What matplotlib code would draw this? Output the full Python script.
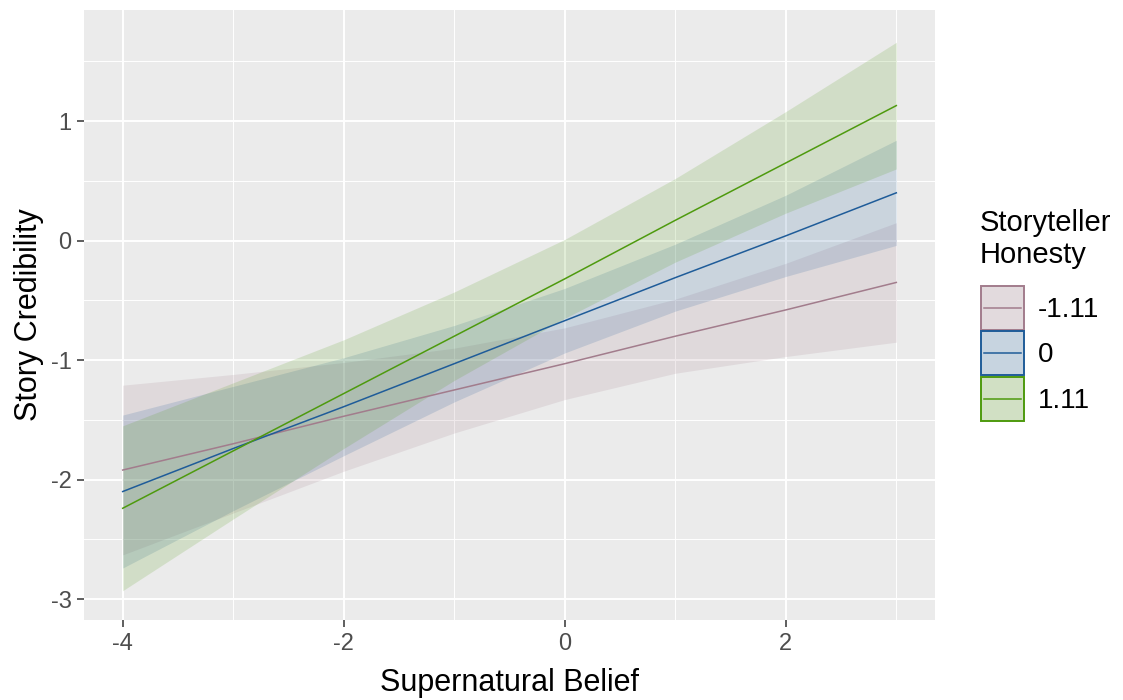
import matplotlib
matplotlib.use("Agg")
import matplotlib.pyplot as plt
from matplotlib.patches import Rectangle
from matplotlib.lines import Line2D
from matplotlib.legend_handler import HandlerBase
import matplotlib.colors as mcolors

plt.rcParams['font.family'] = ['Liberation Sans', 'DejaVu Sans']
plt.rcParams['axes.unicode_minus'] = False

# Data
belief = [-4, -3, -2, -1, 0, 1, 2, 3]
groups = ["-1.11", "0", "1.11"]
legend_title = "Storyteller\nHonesty"

fit_low_honesty = [-1.92, -1.70, -1.47, -1.25, -1.03, -0.80, -0.58, -0.35]
lo_low_honesty = [-2.63, -2.28, -1.93, -1.61, -1.33, -1.11, -0.97, -0.85]
hi_low_honesty = [-1.21, -1.12, -1.02, -0.90, -0.73, -0.49, -0.19, 0.15]

fit_mid_honesty = [-2.10, -1.74, -1.39, -1.03, -0.67, -0.31, 0.04, 0.40]
lo_mid_honesty = [-2.74, -2.26, -1.80, -1.35, -0.94, -0.59, -0.30, -0.04]
hi_mid_honesty = [-1.46, -1.22, -0.98, -0.71, -0.40, -0.03, 0.38, 0.84]

fit_high_honesty = [-2.24, -1.76, -1.28, -0.80, -0.32, 0.17, 0.65, 1.13]
lo_high_honesty = [-2.93, -2.33, -1.74, -1.17, -0.65, -0.18, 0.23, 0.60]
hi_high_honesty = [-1.55, -1.19, -0.83, -0.43, 0.01, 0.52, 1.08, 1.66]

x_ticks = [-4, -2, 0, 2]
y_ticks = [-3, -2, -1, 0, 1]

colors = ["#A27C8C", "#1F5C99", "#4E9A0E"]
fill_alpha = 0.16

series = [
    (fit_low_honesty, lo_low_honesty, hi_low_honesty),
    (fit_mid_honesty, lo_mid_honesty, hi_mid_honesty),
    (fit_high_honesty, lo_high_honesty, hi_high_honesty),
]

fig = plt.figure(figsize=(11.23, 7.0), dpi=100)
ax = fig.add_axes([84 / 1123, 1 - 620 / 700, (935 - 84) / 1123, (620 - 10) / 700])
ax.set_facecolor("#EBEBEB")

for (fit, lo, hi), c in zip(series, colors):
    ax.fill_between(belief, lo, hi, color=c, alpha=fill_alpha, linewidth=0, zorder=2)
for (fit, lo, hi), c in zip(series, colors):
    ax.plot(belief, fit, color=c, linewidth=1.1, zorder=3)

ax.set_xlim(-4.35, 3.35)
ax.set_ylim(-3.175, 1.93)

ax.set_xticks(x_ticks)
ax.set_yticks(y_ticks)
ax.set_xticks([-3, -1, 1, 3], minor=True)
ax.set_yticks([-2.5, -1.5, -0.5, 0.5, 1.5], minor=True)
ax.grid(which="major", color="white", linewidth=1.4, zorder=1)
ax.grid(which="minor", color="white", linewidth=0.7, zorder=1)
ax.set_axisbelow(True)
for s in ax.spines.values():
    s.set_visible(False)
ax.tick_params(which="major", length=5, width=1.1, color="#333333",
               labelsize=17, labelcolor="#4D4D4D", pad=4)
ax.tick_params(which="minor", length=0)

ax.set_xlabel("Supernatural Belief", fontsize=22, color="black", labelpad=10)
ax.set_ylabel("Story Credibility", fontsize=22, color="black", labelpad=5)


class KeyHandler(HandlerBase):
    def create_artists(self, legend, orig_handle, xdescent, ydescent,
                       width, height, fontsize, trans):
        c = orig_handle.get_color()
        x0, y0 = -xdescent, -ydescent
        bg = Rectangle((x0, y0), width, height, facecolor="#F2F2F2",
                       edgecolor="none", transform=trans)
        fill = Rectangle((x0, y0), width, height,
                         facecolor=mcolors.to_rgba(c, fill_alpha + 0.04),
                         edgecolor=c, linewidth=1.4, transform=trans)
        ln = Line2D([x0 + 2, x0 + width - 2], [y0 + height / 2] * 2,
                    color=c, linewidth=1.1, transform=trans)
        return [bg, fill, ln]


fig.text(980 / 1123, 1 - 209 / 700, legend_title, ha="left", va="top",
         fontsize=21, color="black", linespacing=1.2)

handles = [Line2D([], [], color=c) for c in colors]
leg = fig.legend(handles, groups,
                 loc="upper left", bbox_to_anchor=(981 / 1123, 1 - 286 / 700),
                 frameon=False, fontsize=20,
                 handler_map={Line2D: KeyHandler()},
                 handlelength=1.55, handleheight=2.06, labelspacing=0.05,
                 handletextpad=0.5, borderpad=0, borderaxespad=0)

fig.savefig("out.png", dpi=100)
